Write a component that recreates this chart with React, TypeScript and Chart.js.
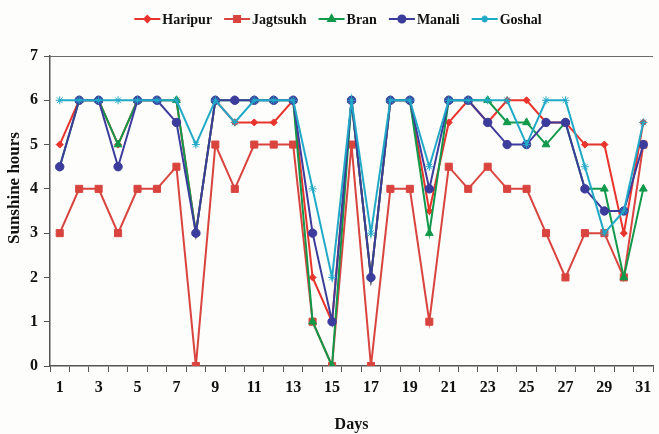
import React, { useEffect, useRef } from "react";
import { Chart, registerables } from "chart.js";
import { drawPoint } from "chart.js/helpers";

Chart.register(...registerables);

const days = ["1","2","3","4","5","6","7","8","9","10","11","12","13","14","15","16","17","18","19","20","21","22","23","24","25","26","27","28","29","30","31"];
const haripur = [5,6,6,5,6,6,6,3,6,5.5,5.5,5.5,6,2,1,6,2,6,6,3.5,5.5,6,5.5,6,6,5.5,5.5,5,5,3,5.5];
const jagtsukh = [3,4,4,3,4,4,4.5,0,5,4,5,5,5,1,0,5,0,4,4,1,4.5,4,4.5,4,4,3,2,3,3,2,5];
const bran = [4.5,6,6,5,6,6,6,3,6,6,6,6,6,1,0,6,2,6,6,3,6,6,6,5.5,5.5,5,5.5,4,4,2,4];
const manali = [4.5,6,6,4.5,6,6,5.5,3,6,6,6,6,6,3,1,6,2,6,6,4,6,6,5.5,5,5,5.5,5.5,4,3.5,3.5,5];
const goshal = [6,6,6,6,6,6,6,5,6,5.5,6,6,6,4,2,6,3,6,6,4.5,6,6,6,6,5,6,6,4.5,3,3.5,5.5];

const seriesNames = ["Haripur", "Jagtsukh", "Bran", "Manali", "Goshal"];
const seriesColors = ["#e8342c", "#d9443f", "#10994a", "#3c3c9c", "#21a9c8"];
const seriesStyles = ["rectRot", "rect", "triangle", "circle", "star"];
const seriesRadius = [3.5, 5, 4.5, 4.2, 4];
const yTitle = "Sunshine hours";
const xTitle = "Days";

const FONT = "'Liberation Serif', 'Times New Roman', serif";

const decorPlugin = {
  id: "decor",
  beforeDraw(chart: any) {
    const ctx = chart.ctx;
    ctx.save();
    ctx.fillStyle = "#fdfdfb";
    ctx.fillRect(0, 0, chart.width, chart.height);
    ctx.restore();
  },
  afterDraw(chart: any) {
    const ctx = chart.ctx;
    const area = chart.chartArea;
    ctx.save();
    // top frame line
    ctx.strokeStyle = "#6b6b6b";
    ctx.lineWidth = 1.2;
    ctx.beginPath();
    ctx.moveTo(area.left, area.top + 0.5);
    ctx.lineTo(area.right, area.top + 0.5);
    ctx.stroke();
    // y title
    ctx.fillStyle = "#111";
    ctx.font = `bold 17px ${FONT}`;
    ctx.textAlign = "center";
    ctx.textBaseline = "middle";
    ctx.translate(15, 188);
    ctx.rotate(-Math.PI / 2);
    ctx.fillText(yTitle, 0, 0);
    ctx.restore();

    // legend
    ctx.save();
    ctx.font = `bold 14px ${FONT}`;
    ctx.textBaseline = "middle";
    ctx.textAlign = "left";
    const lineW = 26;
    const gapText = 2;
    const gapItem = 12;
    const widths = seriesNames.map((n) => ctx.measureText(n).width);
    const total = widths.reduce((a, w) => a + lineW + gapText + w, 0) + gapItem * (seriesNames.length - 1);
    let x = 338 - total / 2;
    const y = 19;
    seriesNames.forEach((name, i) => {
      ctx.strokeStyle = seriesColors[i];
      ctx.fillStyle = seriesColors[i];
      ctx.lineWidth = 2;
      ctx.beginPath();
      ctx.moveTo(x, y);
      ctx.lineTo(x + lineW, y);
      ctx.stroke();
      drawPoint(ctx, { pointStyle: seriesStyles[i], radius: seriesRadius[i] * 0.85, rotation: 0, borderWidth: 1.5 } as any, x + lineW / 2, y);
      ctx.fillStyle = "#111";
      ctx.fillText(name, x + lineW + gapText, y + 1);
      x += lineW + gapText + widths[i] + gapItem;
    });
    ctx.restore();
  },
};

export default function App() {
  const ref = useRef<HTMLCanvasElement | null>(null);
  useEffect(() => {
    document.body.style.margin = "0";
    const canvas = ref.current!;
    const all = [haripur, jagtsukh, bran, manali, goshal];
    const chart = new Chart(canvas, {
      type: "line",
      data: {
        labels: days,
        datasets: all.map((d, i) => ({
          label: seriesNames[i],
          data: d,
          borderColor: seriesColors[i],
          backgroundColor: seriesColors[i],
          pointBackgroundColor: seriesColors[i],
          pointBorderColor: seriesColors[i],
          borderWidth: 2,
          pointStyle: seriesStyles[i] as any,
          pointRadius: seriesRadius[i],
          pointBorderWidth: 1,
          tension: 0,
          fill: false,
          order: 5 - i,
        })),
      },
      options: {
        responsive: false,
        animation: false,
        devicePixelRatio: 1,
        layout: { padding: { top: 56, right: 0, bottom: 0, left: 0 } },
        plugins: {
          legend: { display: false },
          tooltip: { enabled: false },
        },
        scales: {
          x: {
            type: "category",
            offset: true,
            grid: { display: true, drawOnChartArea: false, drawTicks: true, tickLength: 6, offset: true, color: "#555", lineWidth: 1 },
            border: { display: true, color: "#555", width: 1.5 },
            ticks: {
              autoSkip: false,
              maxRotation: 0,
              minRotation: 0,
              padding: 6,
              color: "#111",
              font: { family: FONT, size: 16, weight: "bold" },
              callback: (_v: any, i: number) => (i % 2 === 0 ? days[i] : ""),
            },
            title: { display: true, text: xTitle, color: "#111", font: { family: FONT, size: 16, weight: "bold" }, padding: { top: 0, bottom: 0 } },
            afterFit: (s: any) => { s.height = 68; },
          },
          y: {
            min: 0,
            max: 7,
            grid: { display: true, drawOnChartArea: false, drawTicks: true, tickLength: 6, color: "#555" },
            border: { display: true, color: "#555", width: 1.5 },
            ticks: { stepSize: 1, padding: 6, color: "#111", font: { family: FONT, size: 16, weight: "bold" } },
            afterFit: (s: any) => { s.width = 50; },
          },
        },
      },
      plugins: [decorPlugin],
    });
    return () => chart.destroy();
  }, []);
  return <canvas ref={ref} width={659} height={434} style={{ display: "block", width: 659, height: 434 }} />;
}
